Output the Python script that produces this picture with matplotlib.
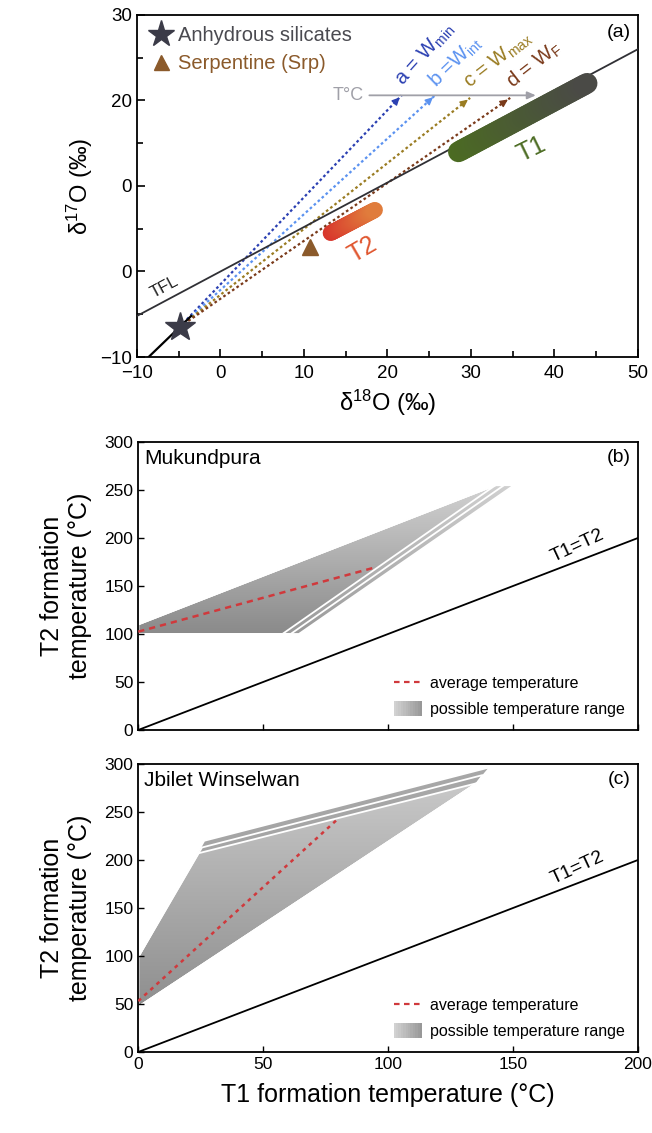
import numpy as np
import matplotlib
matplotlib.use('Agg')
import matplotlib.pyplot as plt
from matplotlib.patches import Polygon, Rectangle, Patch
from matplotlib.lines import Line2D
from matplotlib.colors import LinearSegmentedColormap, to_rgb
from matplotlib.legend_handler import HandlerBase

plt.rcParams['font.family'] = ['Liberation Sans', 'DejaVu Sans']
plt.rcParams['mathtext.fontset'] = 'custom'
plt.rcParams['mathtext.rm'] = 'Liberation Sans'
plt.rcParams['mathtext.it'] = 'Liberation Sans:italic'

# ---- panel (a) data ----
tfl_x = [-10, 50]
tfl_slope = 0.52
ccam_x = [-8.6, -3.5]
ccam_y = [-10.0, -5.2]
star = (-4.9, -6.5)
srp = (10.7, 2.9)
arrow_names = ['a', 'b', 'c', 'd']
arrow_end_x = [21.7, 25.7, 29.9, 34.7]
arrow_end_y = [20.6, 20.6, 20.3, 20.3]
arrow_colors = ['#2b40b2', '#5b92f0', '#9a7c22', '#7a3a1a']
arrow_labels = [r'a = W$_{\rm min}$', r'b =W$_{\rm int}$', r'c = W$_{\rm max}$', r'd = W$_{\rm F}$']
label_x = [22.3, 26.3, 30.2, 35.4]
label_y = [21.2, 21.0, 20.9, 20.9]
label_rot = [48, 44, 38, 38]
temp_arrow_x = [17.5, 38.1]
temp_arrow_y = 20.6
t1_x = [28.5, 43.9]
t1_y = [14.0, 22.0]
t2_x = [13.2, 18.5]
t2_y = [4.5, 7.2]

# ---- panel (b) data: Mukundpura ----
b_polys = [
    [(0, 100), (64.3, 100), (150.4, 255), (143, 255), (0, 110)],
    [(0, 100), (61.0, 100), (146.4, 255), (143, 255), (0, 110)],
    [(0, 100), (57.7, 100), (143, 255), (0, 110)],
]
b_avg_x = [0, 95]
b_avg_y = [102.4, 169.5]

# ---- panel (c) data: Jbilet Winselwan ----
c_polys = [
    [(0, 47), (135.5, 280), (140.8, 296.6), (26.4, 220), (0, 99)],
    [(0, 47), (135.5, 280), (137.9, 288.5), (25.5, 213), (0, 99)],
    [(0, 47), (135.5, 280), (24.1, 207), (0, 99)],
]
c_avg_x = [0, 80]
c_avg_y = [53, 243]

fig = plt.figure(figsize=(6.52, 11.33), dpi=100)
axa = fig.add_axes([0.210, 0.6849, 0.7685, 0.3019])
axb = fig.add_axes([0.212, 0.3557, 0.7665, 0.2542])
axc = fig.add_axes([0.212, 0.0715, 0.7665, 0.2542])

# ================= panel a =================
ax = axa
ax.set_xlim(-10, 50)
ax.set_ylim(-10, 30)
ax.set_xticks(np.arange(-10, 51, 10))
ax.set_xticks(np.arange(-10, 51, 5), minor=True)
ax.set_yticks([-10, 0, 10, 20, 30])
ax.set_yticklabels(['\u221210', '0', '0', '20', '30'])
ax.set_yticks(np.arange(-10, 31, 5), minor=True)
ax.tick_params(direction='in', length=6, width=1.2, labelsize=13.5)
ax.tick_params(axis='x', pad=6)
ax.tick_params(which='minor', direction='in', length=4, width=1.2)
for s in ax.spines.values():
    s.set_linewidth(1.3)

ax.plot(tfl_x, [tfl_slope * v for v in tfl_x], color='#303035', lw=1.3, zorder=3)
ax.plot(ccam_x, ccam_y, color='black', lw=1.6, zorder=3)

for i in range(4):
    ax.plot([star[0], arrow_end_x[i]], [star[1], arrow_end_y[i]], color=arrow_colors[i],
            lw=1.6, ls=(0, (1.2, 1.2)), zorder=2)
    dx = arrow_end_x[i] - star[0]
    dy = arrow_end_y[i] - star[1]
    ax.annotate('', xy=(arrow_end_x[i], arrow_end_y[i]),
                xytext=(arrow_end_x[i] - 0.03 * dx, arrow_end_y[i] - 0.03 * dy),
                arrowprops=dict(arrowstyle='-|>,head_length=0.45,head_width=0.22',
                                color=arrow_colors[i], lw=1), zorder=3)
    ax.text(label_x[i], label_y[i], arrow_labels[i], color=arrow_colors[i], fontsize=14.5,
            rotation=label_rot[i], rotation_mode='anchor', ha='left', va='bottom')

ax.annotate('', xy=(temp_arrow_x[1], temp_arrow_y), xytext=(temp_arrow_x[0], temp_arrow_y),
            arrowprops=dict(arrowstyle='-|>,head_length=0.5,head_width=0.22', color='#a0a0a8', lw=1.3),
            zorder=2)
ax.text(temp_arrow_x[0] - 0.3, temp_arrow_y, 'T°C', color='#a0a0a8', fontsize=13, ha='right', va='center')


def grad_bar(ax, xs, ys, c0, c1, lw, n=40):
    c0 = np.array(to_rgb(c0))
    c1 = np.array(to_rgb(c1))
    t = np.linspace(0, 1, n + 1)
    px = xs[0] + (xs[1] - xs[0]) * t
    py = ys[0] + (ys[1] - ys[0]) * t
    for k in range(n):
        f = k / (n - 1)
        col = c0 + (c1 - c0) * f
        ax.plot(px[k:k + 2], py[k:k + 2], color=col, lw=lw, solid_capstyle='round', zorder=4)


grad_bar(ax, t1_x, t1_y, '#4b6b22', '#4a4a46', 15)
grad_bar(ax, t2_x, t2_y, '#d8362c', '#e07c3c', 11.5)
ax.text(37.3, 14.3, 'T1', color='#4b6b22', fontsize=18, rotation=26, ha='center', va='center')
ax.text(17.0, 2.6, 'T2', color='#e0552e', fontsize=18, rotation=30, ha='center', va='center')
ax.text(-6.7, -1.8, 'TFL', color='#202020', fontsize=12, rotation=28, ha='center', va='center')

h1 = ax.plot(star[0], star[1], marker='*', ms=22, color='#3b3b48', ls='none', zorder=5)[0]
h2 = ax.plot(srp[0], srp[1], marker='^', ms=12, color='#8b5a2b', ls='none', zorder=5)[0]
leg = ax.legend([h1, h2], ['Anhydrous silicates', 'Serpentine (Srp)'], loc='upper left',
                frameon=False, fontsize=14.5, handletextpad=0.2, borderaxespad=0.15,
                handlelength=1.3, labelspacing=0.45, markerscale=0.9)
leg.get_texts()[0].set_color('#4a4a50')
leg.get_texts()[1].set_color('#8b5a2b')
ax.text(0.985, 0.975, '(a)', transform=ax.transAxes, fontsize=14, ha='right', va='top')
ax.set_xlabel('δ$^{18}$O (‰)', fontsize=17, labelpad=4)
ax.set_ylabel('δ$^{17}$O (‰)', fontsize=17, labelpad=4)

# ================= panels b, c =================
gray_cmap = LinearSegmentedColormap.from_list('gr', ['#8a8a8a', '#d2d2d2'])


class GradHandler(HandlerBase):
    def create_artists(self, legend, orig, xd, yd, w, h, fontsize, trans):
        arts = []
        n = 12
        for k in range(n):
            col = gray_cmap(1 - k / (n - 1) * 0.8)
            arts.append(Rectangle((xd + w * k / n, yd - 0.2 * h), w / n * 1.05, h * 1.4,
                                  facecolor=col, edgecolor='none', transform=trans))
        return arts


def gray_region(ax, pts, y0, y1, cols):
    cm = LinearSegmentedColormap.from_list('g', cols)
    clip = Polygon(pts, closed=True, facecolor='none', edgecolor='none')
    ax.add_patch(clip)
    grad = np.linspace(0, 1, 256).reshape(-1, 1)
    im = ax.imshow(grad, extent=[0, 200, y0, y1], origin='lower', cmap=cm, aspect='auto', zorder=1)
    im.set_clip_path(clip)
    ax.add_patch(Polygon(pts, closed=True, fill=False, edgecolor='white', lw=1.3, zorder=1.2))


def temp_panel(ax, polys, avg_x, avg_y, name, tag, ls, stripe_cols, main_cols, y0, y1):
    for k, p in enumerate(polys):
        cols = main_cols if k == len(polys) - 1 else stripe_cols
        gray_region(ax, p, y0, y1, cols)
    ax.plot([0, 200], [0, 200], color='black', lw=1.3, zorder=3)
    ax.plot(avg_x, avg_y, color='#d0393c', lw=1.8, ls=ls, zorder=4)
    ax.set_xlim(0, 200)
    ax.set_ylim(0, 300)
    ax.set_xticks([0, 50, 100, 150, 200])
    ax.set_yticks(np.arange(0, 301, 50))
    ax.tick_params(direction='in', length=4, width=1, labelsize=12.5)
    for s in ax.spines.values():
        s.set_linewidth(1.3)
    ax.text(176, 192, 'T1=T2', fontsize=14, rotation=25, ha='center', va='center')
    ax.text(0.012, 0.975, name, transform=ax.transAxes, fontsize=15, ha='left', va='top')
    ax.text(0.985, 0.975, tag, transform=ax.transAxes, fontsize=14, ha='right', va='top')
    ax.set_ylabel('T2 formation\ntemperature (°C)', fontsize=18, labelpad=9, linespacing=1.2)
    hl = Line2D([0], [0], color='#d0393c', lw=1.6, ls=(0, (2.5, 2)))
    hp = Patch()
    ax.legend([hl, hp], ['average temperature', 'possible temperature range'], loc='lower right',
              frameon=False, fontsize=11.5, handler_map={Patch: GradHandler()}, handlelength=1.8,
              handletextpad=0.5, labelspacing=0.7, borderaxespad=0.4)


temp_panel(axb, b_polys, b_avg_x, b_avg_y, 'Mukundpura', '(b)', (0, (2.5, 2)),
           ['#9a9a9a', '#d0d0d0'], ['#8a8a8a', '#d2d2d2'], 100, 255)
axb.set_xticklabels([])
temp_panel(axc, c_polys, c_avg_x, c_avg_y, 'Jbilet Winselwan', '(c)', (0, (1.5, 1.8)),
           ['#a0a0a0', '#a8a8a8'], ['#8e8e8e', '#cdcdcd'], 45, 300)
axc.set_xlabel('T1 formation temperature (°C)', fontsize=18, labelpad=8)

fig.savefig('out.png', dpi=100)
